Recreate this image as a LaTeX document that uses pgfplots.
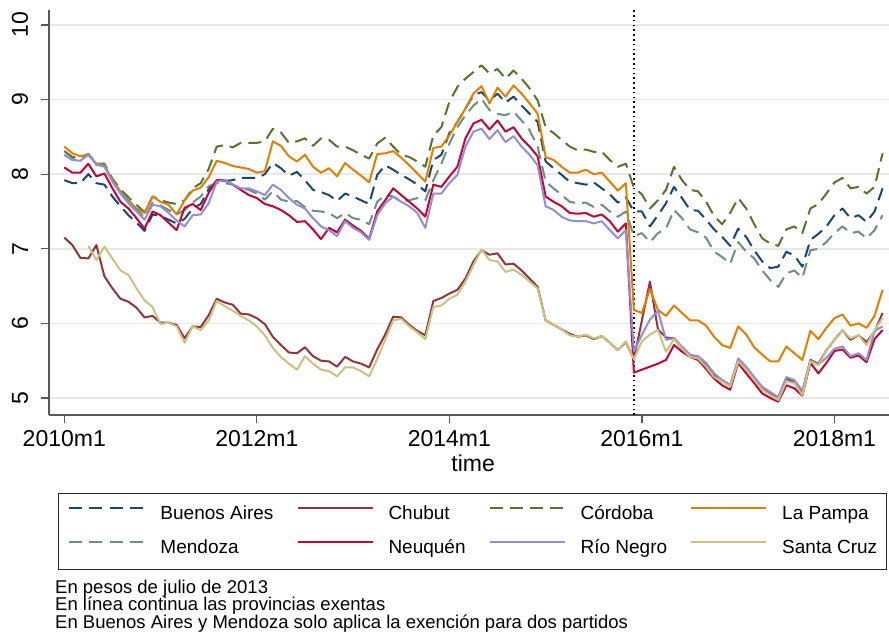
\documentclass[border=0pt]{standalone}
\usepackage{fontspec}
\setmainfont{Liberation Sans}
\usepackage{pgfplots}
\usepackage{pgfplotstable}
\pgfplotsset{compat=1.18}

\definecolor{cNavy}{RGB}{26,71,111}
\definecolor{cMaroon}{RGB}{144,53,59}
\definecolor{cForest}{RGB}{85,117,47}
\definecolor{cOrange}{RGB}{227,126,0}
\definecolor{cTeal}{RGB}{110,142,132}
\definecolor{cCran}{RGB}{193,5,52}
\definecolor{cLav}{RGB}{147,141,210}
\definecolor{cKhaki}{RGB}{202,194,126}

\pgfplotstableread{
m ba ch co lp me ne rn sc
0 7.92 7.15 8.31 8.37 8.26 8.09 8.26 nan
1 7.88 7.05 8.23 8.28 8.20 8.02 8.19 nan
2 7.88 6.88 8.22 8.24 8.19 8.02 8.18 nan
3 8.00 6.87 8.27 8.27 8.27 8.14 8.26 7.04
4 7.88 7.05 8.14 8.14 8.12 7.97 8.13 6.85
5 7.86 6.63 8.14 8.12 8.12 8.01 8.10 7.03
6 7.70 6.47 7.94 7.92 7.91 7.81 7.90 6.87
7 7.57 6.33 7.80 7.77 7.76 7.63 7.74 6.71
8 7.45 6.29 7.69 7.65 7.64 7.54 7.61 6.65
9 7.35 6.21 7.59 7.54 7.53 7.41 7.50 6.47
10 7.24 6.08 7.49 7.48 7.42 7.27 7.39 6.31
11 7.46 6.10 7.70 7.70 7.62 7.50 7.59 6.22
12 7.44 6.01 7.65 7.63 7.58 7.45 7.57 5.99
13 7.39 6.01 7.62 7.59 7.52 7.35 7.48 6.01
14 7.34 5.98 7.60 7.46 7.46 7.25 7.38 5.96
15 7.40 5.80 7.65 7.65 7.52 7.55 7.30 5.74
16 7.54 5.96 7.81 7.78 7.62 7.60 7.45 5.96
17 7.60 5.95 7.88 7.82 7.70 7.52 7.46 5.91
18 7.80 6.11 8.07 7.96 7.84 7.75 7.61 6.04
19 7.91 6.33 8.37 8.18 7.88 7.92 7.90 6.30
20 7.91 6.28 8.39 8.15 7.88 7.92 7.92 6.23
21 7.92 6.25 8.36 8.11 7.86 7.86 7.86 6.17
22 7.95 6.13 8.42 8.09 7.81 7.79 7.81 6.10
23 7.95 6.12 8.42 8.07 7.79 7.72 7.81 6.04
24 7.95 6.07 8.42 8.02 7.74 7.68 7.77 5.96
25 8.00 5.99 8.44 8.04 7.66 7.60 7.72 5.84
26 8.15 5.82 8.61 8.44 7.77 7.57 7.86 5.67
27 8.08 5.71 8.56 8.38 7.66 7.52 7.79 5.55
28 7.98 5.61 8.42 8.24 7.63 7.45 7.68 5.46
29 8.03 5.60 8.44 8.17 7.64 7.36 7.59 5.38
30 7.92 5.68 8.48 8.26 7.56 7.37 7.54 5.56
31 7.79 5.56 8.38 8.10 7.51 7.26 7.41 5.46
32 7.76 5.50 8.48 8.02 7.50 7.13 7.30 5.38
33 7.72 5.49 8.46 8.08 7.48 7.28 7.25 5.36
34 7.64 5.42 8.37 7.97 7.41 7.22 7.17 5.29
35 7.74 5.55 8.37 8.15 7.48 7.39 7.37 5.41
36 7.70 5.49 8.32 8.06 7.41 7.31 7.28 5.41
37 7.65 5.46 8.26 7.98 7.39 7.24 7.22 5.36
38 7.60 5.41 8.21 7.89 7.33 7.13 7.12 5.29
39 7.99 5.65 8.41 8.27 7.63 7.50 7.45 5.52
40 8.12 5.85 8.49 8.28 7.72 7.65 7.61 5.78
41 8.06 6.09 8.37 8.31 7.70 7.81 7.70 6.04
42 7.99 6.08 8.26 8.22 7.63 7.72 7.63 6.06
43 7.93 5.98 8.23 8.12 7.65 7.63 7.57 5.96
44 7.86 5.90 8.17 8.01 7.68 7.54 7.48 5.88
45 7.77 5.84 8.10 7.90 7.65 7.43 7.28 5.79
46 8.19 6.30 8.52 8.35 7.92 7.86 7.74 6.22
47 8.26 6.34 8.63 8.37 8.14 7.83 7.74 6.24
48 8.55 6.40 8.97 8.52 8.41 7.97 7.88 6.33
49 8.70 6.45 9.17 8.70 8.63 8.10 7.99 6.38
50 8.88 6.60 9.28 8.88 8.79 8.48 8.37 6.56
51 9.06 6.83 9.37 9.08 8.92 8.68 8.57 6.78
52 9.10 6.98 9.46 9.18 9.01 8.73 8.61 6.99
53 8.99 6.92 9.35 8.95 8.86 8.60 8.47 6.85
54 9.08 6.94 9.41 9.16 8.81 8.72 8.59 6.83
55 8.96 6.79 9.28 9.04 8.79 8.57 8.43 6.69
56 9.04 6.80 9.39 9.19 8.84 8.63 8.51 6.72
57 8.92 6.71 9.28 9.08 8.72 8.48 8.37 6.65
58 8.81 6.60 9.15 8.95 8.59 8.37 8.26 6.56
59 8.70 6.49 8.99 8.81 8.37 8.24 8.12 6.47
60 8.17 6.04 8.63 8.23 7.90 7.70 7.57 6.04
61 8.08 5.98 8.55 8.19 7.81 7.63 7.52 5.98
62 7.99 5.92 8.46 8.10 7.72 7.57 7.43 5.92
63 7.90 5.86 8.37 8.02 7.63 7.48 7.38 5.84
64 7.88 5.82 8.32 8.02 7.61 7.47 7.37 5.82
65 7.86 5.84 8.33 8.06 7.62 7.48 7.37 5.85
66 7.89 5.79 8.30 8.00 7.56 7.43 7.34 5.80
67 7.81 5.83 8.30 8.02 7.59 7.46 7.37 5.83
68 7.73 5.74 8.19 7.90 7.50 7.37 7.25 5.74
69 7.62 5.64 8.10 7.78 7.43 7.23 7.14 5.64
70 7.69 5.75 8.14 7.88 7.50 7.34 7.25 5.76
71 7.50 5.52 7.82 6.18 7.17 5.34 5.62 5.52
72 7.50 6.04 7.73 6.14 7.21 5.38 5.85 5.76
73 7.30 6.56 7.54 6.46 7.09 5.42 6.05 5.85
74 7.45 5.92 7.65 6.18 7.21 5.46 6.17 5.91
75 7.61 5.81 7.79 6.10 7.27 5.51 5.78 5.62
76 7.83 5.80 8.10 6.24 7.52 5.71 5.80 5.79
77 7.68 5.66 7.92 6.14 7.41 5.62 5.69 5.66
78 7.52 5.55 7.79 6.04 7.26 5.55 5.58 5.55
79 7.51 5.54 7.77 6.04 7.22 5.51 5.56 5.53
80 7.39 5.44 7.63 5.97 7.15 5.39 5.47 5.42
81 7.26 5.30 7.44 5.82 6.96 5.26 5.33 5.28
82 7.16 5.24 7.33 5.71 6.89 5.17 5.24 5.22
83 7.04 5.17 7.48 5.67 6.80 5.11 5.17 5.15
84 7.27 5.50 7.68 5.96 7.09 5.47 5.53 5.49
85 7.16 5.39 7.54 5.85 6.96 5.33 5.42 5.38
86 6.98 5.26 7.33 5.68 6.87 5.20 5.28 5.24
87 6.83 5.12 7.14 5.58 6.71 5.06 5.15 5.11
88 6.74 5.06 7.07 5.49 6.58 5.00 5.08 5.04
89 6.76 5.01 7.04 5.49 6.49 4.95 5.01 4.97
90 6.96 5.26 7.26 5.69 6.67 5.17 5.28 5.22
91 6.91 5.21 7.30 5.60 6.71 5.13 5.24 5.20
92 6.76 5.08 7.21 5.51 6.61 5.03 5.10 5.04
93 7.12 5.51 7.54 5.90 6.98 5.47 5.50 5.49
94 7.20 5.46 7.60 5.79 7.00 5.33 5.45 5.44
95 7.30 5.64 7.74 5.94 7.09 5.47 5.54 5.64
96 7.45 5.78 7.89 6.07 7.21 5.63 5.66 5.78
97 7.54 5.91 7.95 6.12 7.30 5.65 5.69 5.91
98 7.41 5.78 7.81 5.97 7.21 5.54 5.56 5.80
99 7.45 5.84 7.83 6.00 7.23 5.57 5.60 5.84
100 7.36 5.75 7.74 5.94 7.14 5.48 5.51 5.71
101 7.50 5.89 7.83 6.10 7.25 5.79 5.90 5.91
102 7.81 6.14 8.28 6.45 7.45 5.91 5.96 6.07
}\data

\begin{document}
\begin{tikzpicture}
\begin{axis}[
  scale only axis,
  width=839.7pt, height=405pt,
  xmin=-1.87, xmax=102.8,
  ymin=4.772, ymax=10.201,
  axis x line*=bottom, axis y line*=left,
  axis line style={color=black!65, line width=1.8pt},
  xtick={0,24,48,72,96},
  xticklabels={2010m1,2012m1,2014m1,2016m1,2018m1},
  ytick={5,6,7,8,9,10},
  minor tick num=0,
  tick align=outside,
  major tick length=8pt,
  tick style={color=black!65, line width=1.3pt},
  /pgf/number format/assume math mode=true,
  tick label style={font=\fontsize{23}{27}\selectfont},
  xticklabel style={anchor=north, inner xsep=0pt, inner ysep=7pt},
  yticklabel style={rotate=90, anchor=south, inner xsep=0pt, inner ysep=13pt},
  ymajorgrids,
  major grid style={color=black!9, line width=1.5pt},
  xlabel={time},
  xlabel style={at={(axis description cs:0.5,0)}, anchor=base, yshift=-57pt, xshift=4pt, inner sep=0pt, font=\fontsize{23}{27}\selectfont},
  legend columns=4,
  legend cell align=left,
  legend image code/.code={\draw[#1] (0pt,6.5pt) -- (75pt,6.5pt);},
  legend style={
    at={(0,0)}, anchor=north west, xshift=9pt, yshift=-78.3pt,
    draw=black!85, line width=1pt,
    font=\fontsize{19}{22}\selectfont,
    inner xsep=9.7pt, inner ysep=12pt,
    row sep=15.6pt,
    nodes={inner sep=0pt, text height=14pt, text depth=4pt},
    /tikz/every odd column/.append style={column sep=15pt},
    /tikz/every even column/.append style={column sep=23pt},
  },
  every axis plot/.append style={line width=2pt, line join=round},
]
\addplot[black, line width=1.6pt, dash pattern=on 1.6pt off 3.2pt, forget plot] coordinates {(71,4.772) (71,10.201)};
\addplot[cNavy, dash pattern=on 13pt off 7pt] table[x=m, y=ba] {\data};
\addplot[cMaroon] table[x=m, y=ch] {\data};
\addplot[cForest, dash pattern=on 13pt off 7pt] table[x=m, y=co] {\data};
\addplot[cOrange] table[x=m, y=lp] {\data};
\addplot[cTeal, dash pattern=on 13pt off 7pt] table[x=m, y=me] {\data};
\addplot[cCran] table[x=m, y=ne] {\data};
\addplot[cLav] table[x=m, y=rn] {\data};
\addplot[cKhaki] table[x=m, y=sc] {\data};
\legend{Buenos Aires, Chubut, Córdoba, La Pampa, Mendoza, Neuquén, Río Negro, Santa Cruz}
\end{axis}
\node[anchor=base west, inner sep=0pt, font=\fontsize{18.5}{21}\selectfont] at (5.7pt,-178.5pt) {En pesos de julio de 2013};
\node[anchor=base west, inner sep=0pt, font=\fontsize{18.5}{21}\selectfont] at (5.7pt,-196pt) {En línea continua las provincias exentas};
\node[anchor=base west, inner sep=0pt, font=\fontsize{18.5}{21}\selectfont] at (5.7pt,-213.5pt) {En Buenos Aires y Mendoza solo aplica la exención para dos partidos};
\pgfresetboundingbox
\path[use as bounding box] (-49.3pt,-224pt) rectangle (839.7pt,415pt);
\end{tikzpicture}
\end{document}
